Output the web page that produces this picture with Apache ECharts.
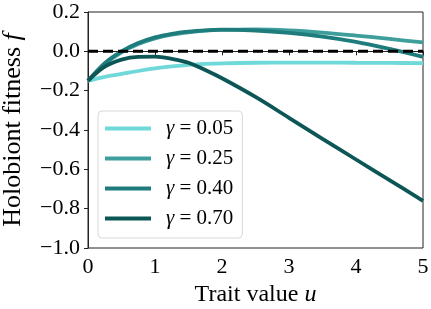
<!DOCTYPE html>
<html>
<head>
<meta charset="utf-8">
<script src="https://cdn.jsdelivr.net/npm/echarts@6/dist/echarts.min.js"></script>
<style>
  html, body { margin: 0; padding: 0; background: #fff; }
  #chart { width: 431px; height: 309px; }
</style>
</head>
<body>
<div id="chart"></div>
<script>
// trait value u
var traitU = [0, 0.25, 0.5, 0.75, 1, 1.25, 1.5, 1.75, 2, 2.5, 3, 3.5, 4, 4.5, 5];
// holobiont fitness for each gamma
var fit005 = [-0.15, -0.13, -0.115, -0.1, -0.087, -0.077, -0.069, -0.064, -0.061, -0.058, -0.057, -0.057, -0.058, -0.059, -0.06];
var fit025 = [-0.15, -0.065, -0.005, 0.037, 0.066, 0.085, 0.097, 0.105, 0.109, 0.111, 0.106, 0.095, 0.08, 0.063, 0.045];
var fit040 = [-0.15, -0.06, 0.0, 0.042, 0.071, 0.089, 0.1, 0.107, 0.11, 0.106, 0.094, 0.075, 0.048, 0.012, -0.028];
var fit070 = [-0.15, -0.078, -0.042, -0.028, -0.027, -0.038, -0.058, -0.095, -0.137, -0.232, -0.338, -0.445, -0.55, -0.655, -0.76];
var gammaLabels = ['0.05', '0.25', '0.40', '0.70'];
var xTicks = [0, 1, 2, 3, 4, 5];
var yTicks = [-1.0, -0.8, -0.6, -0.4, -0.2, 0.0, 0.2];

var font = 'Liberation Serif';
var colors = ['#6fd8d8', '#3e9e9c', '#1f7c7c', '#0d5656'];

function pairs(ys) {
    return traitU.map(function (u, i) { return [u, ys[i]]; });
}
function minusFmt(v, d) {
    var s = Math.abs(v).toFixed(d);
    return (v < -1e-9 ? '\u2212' : '') + s;
}

var fits = [fit005, fit025, fit040, fit070];
var series = fits.map(function (ys, k) {
    return {
        name: 'g' + gammaLabels[k],
        type: 'line',
        data: pairs(ys),
        smooth: 0.35,
        symbol: 'none',
        lineStyle: { color: colors[k], width: 3.8 },
        itemStyle: { color: colors[k] },
        z: 2 + k
    };
});
series.push({
    name: 'zero',
    type: 'line',
    data: [[xTicks[0], 0], [xTicks[xTicks.length - 1], 0]],
    symbol: 'none',
    lineStyle: { color: '#000', width: 3, type: [10, 5] },
    z: 10
});

echarts.init(document.getElementById('chart')).setOption({
    animation: false,
    grid: {
        left: 88, right: 8, top: 12, bottom: 61,
        outerBoundsMode: 'none',
        containLabel: false,
        show: true, borderColor: '#222', borderWidth: 1
    },
    legend: {
        data: gammaLabels.map(function (g) { return 'g' + g; }),
        orient: 'vertical',
        left: 98,
        top: 111,
        icon: 'rect',
        itemWidth: 46,
        itemHeight: 3.8,
        itemGap: 9,
        padding: [7, 9, 9, 7],
        borderColor: '#d8d8d8',
        borderWidth: 1,
        borderRadius: 4,
        formatter: function (name) {
            return '{i|\u03b3} = ' + name.slice(1);
        },
        textStyle: {
            fontFamily: font,
            fontSize: 21,
            color: '#000',
            padding: [0, 0, 0, 10],
            rich: { i: { fontFamily: font, fontStyle: 'italic', fontSize: 21 } }
        }
    },
    xAxis: {
        type: 'value',
        min: 0, max: 5, interval: 1,
        name: 'Trait value {i|u}',
        nameLocation: 'middle',
        nameGap: 28,
        nameTextStyle: {
            fontFamily: font, fontSize: 24, color: '#000',
            rich: { i: { fontFamily: font, fontStyle: 'italic', fontSize: 24 } }
        },
        axisLine: { lineStyle: { color: '#222', width: 1 } },
        axisTick: { show: true, length: 4, lineStyle: { color: '#222' } },
        axisLabel: {
            fontFamily: font, fontSize: 22, color: '#000', margin: 8,
            formatter: function (v) { return String(v); }
        },
        splitLine: { show: false }
    },
    yAxis: {
        type: 'value',
        min: -1.0, max: 0.2, interval: 0.2,
        name: 'Holobiont fitness {i|f}',
        nameLocation: 'middle',
        nameGap: 62,
        nameTextStyle: {
            fontFamily: font, fontSize: 26, color: '#000',
            rich: { i: { fontFamily: font, fontStyle: 'italic', fontSize: 26 } }
        },
        axisLine: { show: true, lineStyle: { color: '#222', width: 1 } },
        axisTick: { show: true, length: 4, lineStyle: { color: '#222' } },
        axisLabel: {
            fontFamily: font, fontSize: 22, color: '#000', margin: 8,
            formatter: function (v) { return minusFmt(v, 1); }
        },
        splitLine: { show: false }
    },
    series: series
});
</script>
</body>
</html>
